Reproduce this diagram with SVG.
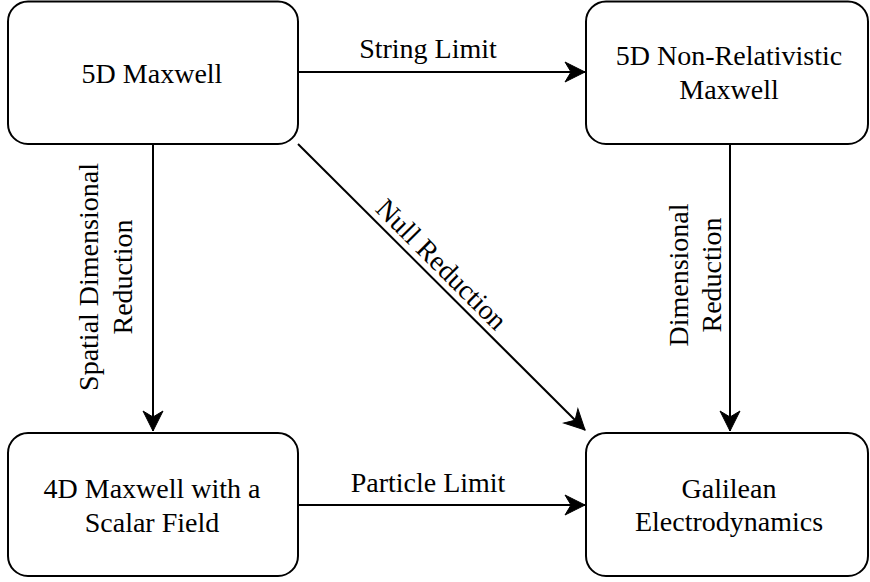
<svg xmlns="http://www.w3.org/2000/svg" width="870" height="582" viewBox="0 0 870 582">
<defs>
<style>
.box{fill:#fff;stroke:#000;stroke-width:2}
.edge{fill:none;stroke:#000;stroke-width:2}
text{font-family:"Liberation Serif","Times New Roman",serif;font-size:28px;fill:#000;text-anchor:middle}
</style>
<marker id="arr" markerUnits="userSpaceOnUse" markerWidth="24" markerHeight="24" viewBox="-22 -12 24 24" refX="0" refY="0" orient="auto">
<path d="M0,0 L-20,-10 L-14,0 L-20,10 Z" fill="#000" stroke="#000" stroke-width="1"/>
</marker>
</defs>
<rect width="870" height="582" fill="#fff"/>
<g id="connectors">
<path class="edge" d="M298,72 L585,72" marker-end="url(#arr)"/>
<path class="edge" d="M153,144 L153,431" marker-end="url(#arr)"/>
<path class="edge" d="M730,144 L730,431" marker-end="url(#arr)"/>
<path class="edge" d="M298,505 L585,505" marker-end="url(#arr)"/>
<path class="edge" d="M298,144 L585,430" marker-end="url(#arr)"/>
<text x="428" y="58">String Limit</text>
<text x="428" y="492">Particle Limit</text>
<text transform="translate(0,277) rotate(-90)"><tspan x="0" y="98">Spatial Dimensional</tspan><tspan x="0" y="132">Reduction</tspan></text>
<text transform="translate(0,275) rotate(-90)"><tspan x="0" y="688">Dimensional</tspan><tspan x="0" y="721">Reduction</tspan></text>
<text transform="translate(435,271) rotate(45)" x="0" y="0">Null Reduction</text>
</g>
<g id="n1">
<rect class="box" x="8" y="1.5" width="290" height="142.5" rx="20"/>
<text x="152" y="83">5D Maxwell</text>
</g>
<g id="n2">
<rect class="box" x="586" y="1.5" width="282" height="142.5" rx="20"/>
<text x="729" y="65">5D Non-Relativistic</text>
<text x="729" y="99">Maxwell</text>
</g>
<g id="n3">
<rect class="box" x="8" y="433" width="290" height="143" rx="20"/>
<text x="152" y="498">4D Maxwell with a</text>
<text x="152" y="532">Scalar Field</text>
</g>
<g id="n4">
<rect class="box" x="586" y="433" width="282" height="143" rx="20"/>
<text x="729" y="498">Galilean</text>
<text x="729" y="531">Electrodynamics</text>
</g>
</svg>
